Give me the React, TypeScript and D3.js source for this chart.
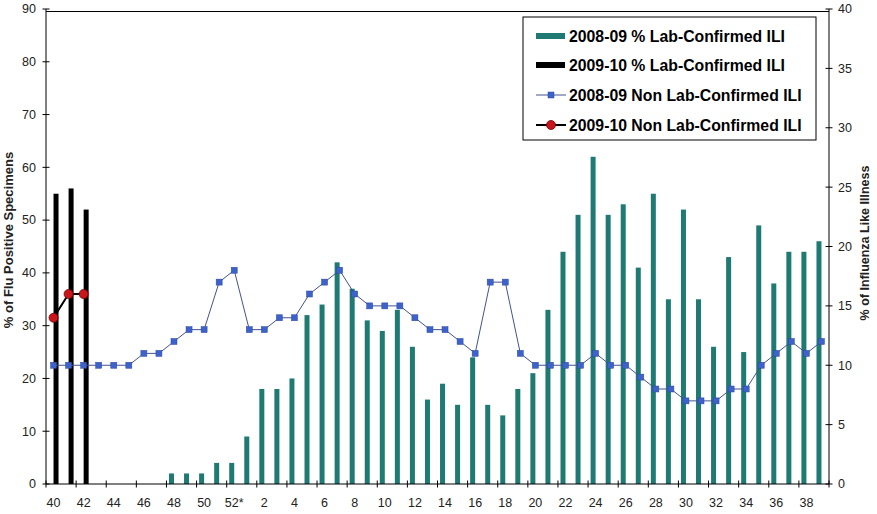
import { useRef, useEffect } from 'react';
import * as d3 from 'd3';

const weeks = [
  '40', '41', '42', '43', '44', '45', '46', '47', '48', '49', '50', '51', '52*',
  '1', '2', '3', '4', '5', '6', '7', '8', '9', '10', '11', '12', '13', '14', '15',
  '16', '17', '18', '19', '20', '21', '22', '23', '24', '25', '26', '27', '28', '29',
  '30', '31', '32', '33', '34', '35', '36', '37', '38', '39',
];

const tickLabels = [
  '40', '42', '44', '46', '48', '50', '52*', '2', '4', '6', '8', '10', '12', '14',
  '16', '18', '20', '22', '24', '26', '28', '30', '32', '34', '36', '38',
];

// % lab-confirmed (left axis)
const lab0809: (number | null)[] = [
  null, null, null, null, null, null, null, null, 2, 2, 2, 4, 4,
  9, 18, 18, 20, 32, 34, 42, 37, 31, 29, 33, 26, 16, 19, 15, 24, 15, 13, 18, 21, 33,
  44, 51, 62, 51, 53, 41, 55, 35, 52, 35, 26, 43, 25, 49, 38, 44, 44, 46,
];
const lab0910: (number | null)[] = [55, 56, 52];

// % non lab-confirmed ILI (right axis)
const ili0809: (number | null)[] = [
  10, 10, 10, 10, 10, 10, 11, 11, 12, 13, 13, 17, 18,
  13, 13, 14, 14, 16, 17, 18, 16, 15, 15, 15, 14, 13, 13, 12, 11, 17, 17, 11, 10, 10,
  10, 10, 11, 10, 10, 9, 8, 8, 7, 7, 7, 8, 8, 10, 11, 12, 11, 12,
];
const ili0910: (number | null)[] = [14, 16, 16];

const leftTicks = [0, 10, 20, 30, 40, 50, 60, 70, 80, 90];
const rightTicks = [0, 5, 10, 15, 20, 25, 30, 35, 40];

const legendItems = [
  '2008-09 % Lab-Confirmed ILI',
  '2009-10 % Lab-Confirmed ILI',
  '2008-09 Non Lab-Confirmed ILI',
  '2009-10 Non Lab-Confirmed ILI',
];

const TEAL = '#1f7a74';
const BLUE = '#3d62c9';
const FONT = '"Liberation Sans", Arial, sans-serif';

export default function App() {
  const svgRef = useRef<SVGSVGElement>(null);

  useEffect(() => {
    if (!svgRef.current) return;
    const svg = d3.select(svgRef.current);
    svg.selectAll('*').remove();

    const width = 877;
    const height = 514;
    const left = 46;
    const right = 829;
    const top = 9;
    const bottom = 484;

    svg.append('rect').attr('width', width).attr('height', height).attr('fill', '#fff');

    const x = d3.scaleBand().domain(weeks).range([left, right]);
    const xs = d3.scaleBand().domain(['0809', '0910']).range([-5, 5]);
    const yL = d3.scaleLinear().domain([0, 90]).range([bottom, top]);
    const yR = d3.scaleLinear().domain([0, 40]).range([bottom, top]);
    const cx = (i: number) => x(weeks[i])! + x.bandwidth() / 2;

    // Bars
    const barData = [
      { key: '0809', values: lab0809, color: TEAL },
      { key: '0910', values: lab0910, color: '#000' },
    ];
    barData.forEach((s) => {
      svg.append('g')
        .selectAll('rect')
        .data(s.values.map((v, i) => ({ v, i })).filter((d) => d.v != null))
        .enter()
        .append('rect')
        .attr('x', (d) => cx(d.i) + xs(s.key)!)
        .attr('y', (d) => yL(d.v as number))
        .attr('width', xs.bandwidth())
        .attr('height', (d) => yL(0) - yL(d.v as number))
        .attr('fill', s.color);
    });

    // Frame / axes lines
    const axisColor = '#000';
    svg.append('line').attr('x1', left).attr('x2', right).attr('y1', top + 2.5).attr('y2', top + 2.5).attr('stroke', axisColor);
    svg.append('line').attr('x1', left).attr('x2', left).attr('y1', top).attr('y2', bottom).attr('stroke', axisColor);
    svg.append('line').attr('x1', right).attr('x2', right).attr('y1', top).attr('y2', bottom).attr('stroke', axisColor);
    svg.append('line').attr('x1', left).attr('x2', right).attr('y1', bottom).attr('y2', bottom).attr('stroke', axisColor);

    // Left axis ticks
    const gl = svg.append('g');
    leftTicks.forEach((t) => {
      gl.append('line').attr('x1', left - 3.5).attr('x2', left + 3.5).attr('y1', yL(t)).attr('y2', yL(t)).attr('stroke', axisColor);
      gl.append('text')
        .attr('x', left - 10)
        .attr('y', yL(t))
        .attr('dy', '0.35em')
        .attr('text-anchor', 'end')
        .attr('font-family', FONT)
        .attr('font-size', '12.5px')
        .attr('fill', '#222')
        .text(t);
    });

    // Right axis ticks
    const gr = svg.append('g');
    rightTicks.forEach((t) => {
      gr.append('line').attr('x1', right - 3.5).attr('x2', right + 3.5).attr('y1', yR(t)).attr('y2', yR(t)).attr('stroke', axisColor);
      gr.append('text')
        .attr('x', right + 9)
        .attr('y', yR(t))
        .attr('dy', '0.35em')
        .attr('text-anchor', 'start')
        .attr('font-family', FONT)
        .attr('font-size', '12.5px')
        .attr('fill', '#222')
        .text(t);
    });

    // X axis ticks every 2 weeks
    const gx = svg.append('g');
    for (let i = 0; i <= weeks.length; i += 2) {
      const tx = i < weeks.length ? x(weeks[i])! : right;
      gx.append('line').attr('x1', tx).attr('x2', tx).attr('y1', bottom - 3.5).attr('y2', bottom + 3.5).attr('stroke', axisColor);
    }
    tickLabels.forEach((lab) => {
      gx.append('text')
        .attr('x', x(lab)! + x.bandwidth() / 2)
        .attr('y', 507)
        .attr('text-anchor', 'middle')
        .attr('font-family', FONT)
        .attr('font-size', '12.5px')
        .attr('fill', '#222')
        .text(lab);
    });

    // Axis titles
    svg.append('text')
      .attr('transform', 'translate(13,240) rotate(-90)')
      .attr('text-anchor', 'middle')
      .attr('font-family', FONT)
      .attr('font-size', '13px')
      .attr('font-weight', 'bold')
      .attr('fill', '#222')
      .text('%  of Flu Positive Specimens');
    svg.append('text')
      .attr('transform', 'translate(869,243) rotate(-90)')
      .attr('text-anchor', 'middle')
      .attr('font-family', FONT)
      .attr('font-size', '12.5px')
      .attr('font-weight', 'bold')
      .attr('fill', '#222')
      .text('%  of Influenza Like Illness');

    // Lines
    const line = d3
      .line<number | null>()
      .defined((d) => d != null)
      .x((_, i) => cx(i))
      .y((d) => yR(d as number));

    svg.append('path').datum(ili0809).attr('d', line).attr('fill', 'none').attr('stroke', '#44528f').attr('stroke-width', 1);
    svg.append('g')
      .selectAll('rect')
      .data(ili0809.map((v, i) => ({ v, i })).filter((d) => d.v != null))
      .enter()
      .append('rect')
      .attr('x', (d) => cx(d.i) - 3)
      .attr('y', (d) => yR(d.v as number) - 3)
      .attr('width', 6)
      .attr('height', 6)
      .attr('fill', BLUE)
      .attr('stroke', '#2c48a8')
      .attr('stroke-width', 0.5);

    svg.append('path').datum(ili0910).attr('d', line).attr('fill', 'none').attr('stroke', '#000').attr('stroke-width', 2);
    svg.append('g')
      .selectAll('circle')
      .data(ili0910.map((v, i) => ({ v, i })).filter((d) => d.v != null))
      .enter()
      .append('circle')
      .attr('cx', (d) => cx(d.i))
      .attr('cy', (d) => yR(d.v as number))
      .attr('r', 4.5)
      .attr('fill', '#c8161b')
      .attr('stroke', '#7a0000')
      .attr('stroke-width', 0.8);

    // Legend
    const lg = svg.append('g');
    lg.append('rect').attr('x', 523).attr('y', 17).attr('width', 293).attr('height', 123).attr('fill', '#fff').attr('stroke', '#000');
    const rows = [36, 65, 95, 125];
    legendItems.forEach((label, k) => {
      const ry = rows[k];
      if (k === 0 || k === 1) {
        lg.append('rect').attr('x', 536).attr('y', ry - 3).attr('width', 29).attr('height', 6).attr('fill', k === 0 ? TEAL : '#000');
      } else if (k === 2) {
        lg.append('line').attr('x1', 536).attr('x2', 566).attr('y1', ry).attr('y2', ry).attr('stroke', '#44528f');
        lg.append('rect').attr('x', 548).attr('y', ry - 3).attr('width', 6).attr('height', 6).attr('fill', BLUE).attr('stroke', '#2c48a8').attr('stroke-width', 0.5);
      } else {
        lg.append('line').attr('x1', 536).attr('x2', 566).attr('y1', ry).attr('y2', ry).attr('stroke', '#000').attr('stroke-width', 2);
        lg.append('circle').attr('cx', 551).attr('cy', ry).attr('r', 4.5).attr('fill', '#c8161b').attr('stroke', '#7a0000').attr('stroke-width', 0.8);
      }
      lg.append('text')
        .attr('x', 569)
        .attr('y', ry)
        .attr('dy', '0.36em')
        .attr('font-family', FONT)
        .attr('font-size', '15.8px')
        .attr('font-weight', 'bold')
        .attr('fill', '#000')
        .text(label);
    });
  }, []);

  return (
    <div style={{ position: 'absolute', left: 0, top: 0 }}>
      <svg ref={svgRef} width={877} height={514} style={{ display: 'block' }} />
    </div>
  );
}
